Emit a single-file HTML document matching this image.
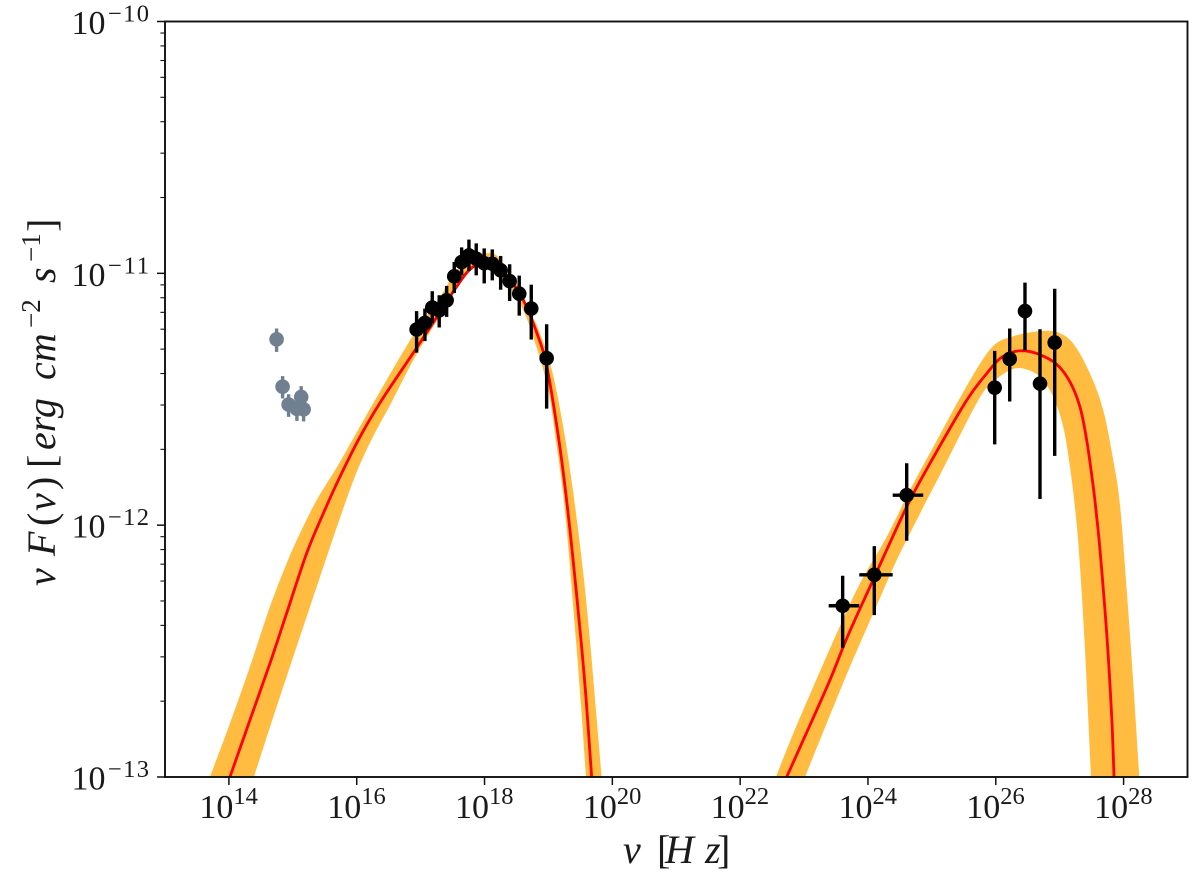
<!DOCTYPE html>
<html lang="en">
<head>
<meta charset="utf-8">
<title>Spectral energy distribution</title>
<style>
html,body{margin:0;padding:0;background:#fff;}
svg{display:block;font-family:"Liberation Serif",serif;}
text{fill:#1a1a1a;}
</style>
</head>
<body>
<svg id="chart" xmlns="http://www.w3.org/2000/svg" width="1200" height="880" viewBox="0 0 1200 880">
  <defs>
    <clipPath id="plot-clip"><rect x="165" y="21.5" width="1022.5" height="755.5"></rect></clipPath>
  </defs>
  <rect x="0" y="0" width="1200" height="880" fill="#fff"></rect>
  <g id="series" clip-path="url(#plot-clip)"></g>
  <g id="points"></g>
  <g id="axes"></g>
  <text y="863" font-size="40"><tspan x="623" font-style="italic">ν</tspan><tspan x="657">[</tspan><tspan x="665" font-style="italic">H</tspan><tspan x="705" font-style="italic">z</tspan><tspan x="717">]</tspan></text>
  <text transform="translate(55 586) rotate(-90)" font-size="40"><tspan x="0" y="0" font-style="italic">ν</tspan><tspan x="30" y="0" font-style="italic">F</tspan><tspan x="60" y="0">(</tspan><tspan x="75" y="0" font-style="italic">ν</tspan><tspan x="96" y="0">)</tspan><tspan x="118" y="0">[</tspan><tspan x="136" y="0" font-style="italic">erg</tspan><tspan x="206" y="0" font-style="italic">cm</tspan><tspan x="258" y="-15" font-size="27">−2</tspan><tspan x="303" y="0" font-style="italic">s</tspan><tspan x="324" y="-15" font-size="27">−1</tspan><tspan x="354" y="0">]</tspan></text>
</svg>
<script>
// Tick labels (decades)
var xTickExponents = [14, 16, 18, 20, 22, 24, 26, 28];
var yTickExponents = [-10, -11, -12, -13];
var yMinorMultipliers = [2, 3, 4, 5, 6, 7, 8, 9];

// Synchrotron component: log10(nu), log10(nu F_nu)
var syncModelNu = [14.016,14.329,14.642,14.903,15.216,15.476,15.737,16.050,16.390,16.911,17.302,17.537,17.772,18.006,18.241,18.429,18.601,18.820,18.977,19.164,19.290,19.399,19.509,19.587,19.676];
var syncModelF = [-13,-12.774,-12.549,-12.350,-12.112,-11.954,-11.808,-11.650,-11.504,-11.306,-11.155,-11.063,-10.984,-10.958,-10.984,-11.036,-11.103,-11.238,-11.373,-11.663,-11.913,-12.171,-12.456,-12.683,-13];
var syncUpperNu = [13.703,14.016,14.329,14.642,14.903,15.111,15.372,15.737,16.285,16.884,17.302,17.563,17.823,18.006,18.189,18.449,18.659,18.867,19.055,19.227,19.383,19.540,19.649,19.743,19.832];
var syncUpperF = [-13,-12.787,-12.562,-12.324,-12.152,-12.033,-11.901,-11.749,-11.504,-11.246,-11.094,-10.988,-10.929,-10.921,-10.929,-11.015,-11.120,-11.238,-11.385,-11.603,-11.861,-12.179,-12.456,-12.734,-13];
var syncLowerNu = [14.391,14.668,14.955,15.216,15.476,15.737,15.998,16.258,16.520,16.911,17.354,17.667,17.975,18.293,18.581,18.762,18.992,19.117,19.258,19.430,19.509,19.587];
var syncLowerF = [-13,-12.782,-12.562,-12.364,-12.167,-11.972,-11.790,-11.647,-11.524,-11.333,-11.147,-11.008,-10.972,-11.024,-11.134,-11.253,-11.456,-11.663,-11.940,-12.456,-12.714,-13];

// Inverse-Compton component
var icModelNu = [22.728,22.988,23.405,23.667,24.031,24.606,24.970,25.545,25.858,26.066,26.274,26.457,26.692,26.953,27.161,27.318,27.423,27.526,27.579,27.631,27.736,27.814,27.850];
var icModelF = [-13,-12.853,-12.615,-12.450,-12.245,-11.927,-11.755,-11.504,-11.398,-11.338,-11.312,-11.308,-11.323,-11.361,-11.431,-11.531,-11.663,-11.848,-11.967,-12.099,-12.430,-12.761,-13];
var icUpperNu = [22.560,22.831,23.144,23.510,23.875,24.293,24.657,25.022,25.596,25.956,26.274,26.640,26.953,27.213,27.474,27.682,27.839,27.944,28.049,28.152,28.246];
var icUpperF = [-13,-12.827,-12.642,-12.430,-12.231,-12.046,-11.861,-11.689,-11.425,-11.290,-11.250,-11.231,-11.233,-11.279,-11.398,-11.544,-11.742,-11.920,-12.258,-12.627,-13];
var icLowerNu = [23.014,23.354,23.718,24.083,24.449,24.814,25.178,25.726,25.961,26.222,26.430,26.692,26.900,27.056,27.161,27.255,27.318,27.396,27.490];
var icLowerF = [-13,-12.787,-12.562,-12.350,-12.139,-11.954,-11.775,-11.504,-11.431,-11.385,-11.378,-11.411,-11.491,-11.610,-11.769,-11.967,-12.165,-12.496,-13];

// Optical/UV points (grey, not fitted)
var greyNu = [14.746,14.840,14.934,15.064,15.131,15.169];
var greyF = [-11.262,-11.450,-11.521,-11.538,-11.491,-11.540];
var greyFHigh = [-11.219,-11.408,-11.480,-11.496,-11.448,-11.496];
var greyFLow = [-11.312,-11.497,-11.570,-11.586,-11.536,-11.588];

// X-ray points
var xrayNu = [16.937,17.067,17.182,17.291,17.407,17.526,17.642,17.756,17.870,17.995,18.121,18.252,18.393,18.543,18.731,18.972];
var xrayF = [-11.223,-11.197,-11.136,-11.147,-11.107,-11.012,-10.955,-10.929,-10.942,-10.960,-10.962,-10.988,-11.031,-11.081,-11.140,-11.337];
var xrayFHigh = [-11.150,-11.140,-11.071,-11.087,-11.050,-10.955,-10.897,-10.866,-10.881,-10.901,-10.905,-10.931,-10.964,-11.009,-11.045,-11.202];
var xrayFLow = [-11.315,-11.269,-11.198,-11.215,-11.173,-11.078,-11.008,-10.991,-11.008,-11.040,-11.028,-11.065,-11.110,-11.168,-11.263,-11.537];

// Gamma-ray points with horizontal error bars
var gammaNu = [23.604,24.099,24.606];
var gammaF = [-12.320,-12.197,-11.881];
var gammaFHigh = [-12.201,-12.083,-11.754];
var gammaFLow = [-12.487,-12.357,-12.062];
var gammaNuLow = [23.385,23.864,24.387];
var gammaNuHigh = [23.864,24.387,24.865];

// Very-high-energy points
var vheNu = [25.983,26.218,26.457,26.692,26.922];
var vheF = [-11.454,-11.340,-11.150,-11.438,-11.275];
var vheFHigh = [-11.308,-11.219,-11.037,-11.222,-11.061];
var vheFLow = [-11.679,-11.509,-11.306,-11.896,-11.725];

var SVGNS = 'http://www.w3.org/2000/svg';
var plotLeft = 165, plotRight = 1187.5, plotTop = 21.5, plotBottom = 777;
var xMinDecade = 13, xMaxDecade = 29, yMinDecade = -13, yMaxDecade = -10;

function xScale(logNu) {
  return plotLeft + (logNu - xMinDecade) / (xMaxDecade - xMinDecade) * (plotRight - plotLeft);
}
function yScale(logF) {
  return plotBottom - (logF - yMinDecade) / (yMaxDecade - yMinDecade) * (plotBottom - plotTop);
}
function make(tag, attrs, parent) {
  var node = document.createElementNS(SVGNS, tag);
  for (var k in attrs) { node.setAttribute(k, attrs[k]); }
  parent.appendChild(node);
  return node;
}
function toPixels(nu, f) {
  var pts = [];
  for (var i = 0; i < nu.length; i++) { pts.push([xScale(nu[i]), yScale(f[i])]); }
  return pts;
}
function smoothSegments(p) {
  var d = '';
  for (var i = 0; i < p.length - 1; i++) {
    var p0 = p[i - 1] || p[i], p1 = p[i], p2 = p[i + 1], p3 = p[i + 2] || p2;
    var c1x = p1[0] + (p2[0] - p0[0]) / 6, c1y = p1[1] + (p2[1] - p0[1]) / 6;
    var c2x = p2[0] - (p3[0] - p1[0]) / 6, c2y = p2[1] - (p3[1] - p1[1]) / 6;
    d += 'C' + c1x.toFixed(2) + ' ' + c1y.toFixed(2) + ' ' + c2x.toFixed(2) + ' ' + c2y.toFixed(2) + ' ' + p2[0].toFixed(2) + ' ' + p2[1].toFixed(2);
  }
  return d;
}
function linePath(nu, f) {
  var p = toPixels(nu, f);
  return 'M' + p[0][0].toFixed(2) + ' ' + p[0][1].toFixed(2) + smoothSegments(p);
}
function bandPath(uNu, uF, lNu, lF) {
  var up = toPixels(uNu, uF);
  var lo = toPixels(lNu, lF).reverse();
  return 'M' + up[0][0].toFixed(2) + ' ' + up[0][1].toFixed(2) + smoothSegments(up) +
    'L' + lo[0][0].toFixed(2) + ' ' + lo[0][1].toFixed(2) + smoothSegments(lo) + 'Z';
}

var seriesG = document.getElementById('series');
var pointsG = document.getElementById('points');
var axesG = document.getElementById('axes');

// Uncertainty bands
var syncBand = make('path', {d: bandPath(syncUpperNu, syncUpperF, syncLowerNu, syncLowerF), fill: '#ffa500', 'fill-opacity': 0.75}, seriesG);


var icBand = make('path', {d: bandPath(icUpperNu, icUpperF, icLowerNu, icLowerF), fill: '#ffa500', 'fill-opacity': 0.75}, seriesG);



// Model lines
var syncLine = make('path', {d: linePath(syncModelNu, syncModelF), fill: 'none', stroke: '#ff0000', 'stroke-width': 2.8}, seriesG);


var icLine = make('path', {d: linePath(icModelNu, icModelF), fill: 'none', stroke: '#ff0000', 'stroke-width': 2.8}, seriesG);



// Data points
function drawPoints(nu, f, high, low, color, nuLow, nuHigh) {
  for (var i = 0; i < nu.length; i++) {
    var g = make('g', {}, pointsG);
    
    
    var px = xScale(nu[i]);
    var py = yScale(f[i]);
    make('line', {x1: px, x2: px, y1: yScale(high[i]), y2: yScale(low[i]), stroke: color, 'stroke-width': 3.4}, g);
    if (nuLow) {
      make('line', {x1: xScale(nuLow[i]), x2: xScale(nuHigh[i]), y1: py, y2: py, stroke: color, 'stroke-width': 3.4}, g);
    }
    make('circle', {cx: px, cy: py, r: 7.3, fill: color}, g);
  }
}
drawPoints(greyNu, greyF, greyFHigh, greyFLow, '#708090');
drawPoints(xrayNu, xrayF, xrayFHigh, xrayFLow, '#000000');
drawPoints(gammaNu, gammaF, gammaFHigh, gammaFLow, '#000000', gammaNuLow, gammaNuHigh);
drawPoints(vheNu, vheF, vheFHigh, vheFLow, '#000000');

// Frame
var frame = make('rect', {x: plotLeft, y: plotTop, width: plotRight - plotLeft, height: plotBottom - plotTop, fill: 'none', stroke: '#111', 'stroke-width': 1.9}, axesG);



// X ticks and labels
xTickExponents.forEach(function (exp) {
  var tx = xScale(exp);
  var g = make('g', {}, axesG);
  
  
  make('line', {x1: tx, x2: tx, y1: plotBottom, y2: plotBottom + 8, stroke: '#111', 'stroke-width': 1.5}, g);
  var base = make('text', {x: tx - 29.5, y: 818, 'font-size': 34}, g);
  base.textContent = '10';
  var sup = make('text', {x: tx + 4.5, y: 804, 'font-size': 24.5}, g);
  sup.textContent = String(exp);
});

// Y ticks, minor ticks and labels
yTickExponents.forEach(function (exp) {
  var ty = yScale(exp);
  var g = make('g', {}, axesG);
  
  
  make('line', {x1: plotLeft - 8, x2: plotLeft, y1: ty, y2: ty, stroke: '#111', 'stroke-width': 1.5}, g);
  var base = make('text', {x: 71.5, y: ty + 12.5, 'font-size': 34}, g);
  base.textContent = '10';
  var sup = make('text', {x: 108, y: ty, 'font-size': 24.5, textLength: 41, lengthAdjust: 'spacing'}, g);
  sup.textContent = '\u2212' + Math.abs(exp);
  if (exp > yMinDecade) {
    yMultiplierTicks(exp - 1, g);
  }
});
function yMultiplierTicks(decade, parent) {
  yMinorMultipliers.forEach(function (m) {
    var my = yScale(decade + Math.log10(m));
    make('line', {x1: plotLeft - 4.6, x2: plotLeft, y1: my, y2: my, stroke: '#111', 'stroke-width': 1.1}, parent);
  });
}
</script>
</body>
</html>
